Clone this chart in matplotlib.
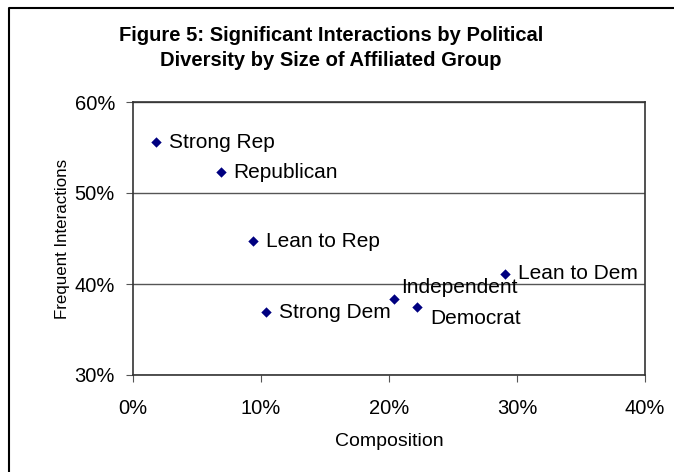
import numpy as np
import matplotlib.pyplot as plt
from matplotlib.lines import Line2D
from matplotlib.ticker import PercentFormatter

plt.rcParams['font.family'] = ['Liberation Sans', 'DejaVu Sans']

# data (percent)
groups = ['Strong Rep', 'Republican', 'Lean to Rep', 'Strong Dem',
          'Independent', 'Democrat', 'Lean to Dem']
composition = [1.8, 6.85, 9.4, 10.4, 20.4, 22.2, 29.1]
frequent = [55.6, 52.3, 44.7, 36.9, 38.3, 37.5, 41.1]

# label offsets in pixels (style only)
offsets = {'Independent': (7, 12), 'Democrat': (13, -12)}

fig = plt.figure(figsize=(6.74, 4.72), dpi=100)
ax = fig.add_axes([133 / 674, 1 - 375 / 472, 512 / 674, 273 / 472])

ax.scatter(composition, frequent, marker='D', s=28, color='#000080',
           linewidths=0, zorder=3)

for g, x, y in zip(groups, composition, frequent):
    dx, dy = offsets.get(g, (13, 0))
    ax.annotate(g, (x, y), xytext=(dx, dy), textcoords='offset pixels',
                ha='left', va='center', fontsize=15, color='black')

ax.set_xlim(0, 40)
ax.set_ylim(30, 60)
ax.set_xticks(np.arange(0, 41, 10))
ax.set_yticks(np.arange(30, 61, 10))
ax.xaxis.set_major_formatter(PercentFormatter(decimals=0))
ax.yaxis.set_major_formatter(PercentFormatter(decimals=0))
ax.yaxis.grid(True, color='#555555', linewidth=1)
ax.set_axisbelow(True)
ax.tick_params(axis='both', direction='out', length=5, color='#555555',
               labelsize=14.5)
ax.tick_params(axis='y', pad=8)
ax.tick_params(axis='x', pad=12)
for s in ax.spines.values():
    s.set_color('#333333')
    s.set_linewidth(1.2)

ax.set_xlabel('Composition', fontsize=14)
ax.xaxis.set_label_coords(0.5, -(433 - 375) / 273)
ax.set_ylabel('Frequent Interactions', fontsize=12.2)
ax.yaxis.set_label_coords(-(133 - 70) / 512, 0.5)

fig.text(331 / 674, 1 - 48 / 472,
         'Figure 5: Significant Interactions by Political\nDiversity by Size of Affiliated Group',
         ha='center', va='center', fontsize=14.5, fontweight='bold', linespacing=1.45)

# chart border (only left and top edges fall inside the picture)
fig.lines.append(Line2D([8.5 / 674, 8.5 / 674, 1.0], [0.0, 1 - 7.5 / 472, 1 - 7.5 / 472],
                        transform=fig.transFigure, color='black', linewidth=1.5))

fig.savefig('out.png', dpi=100)
